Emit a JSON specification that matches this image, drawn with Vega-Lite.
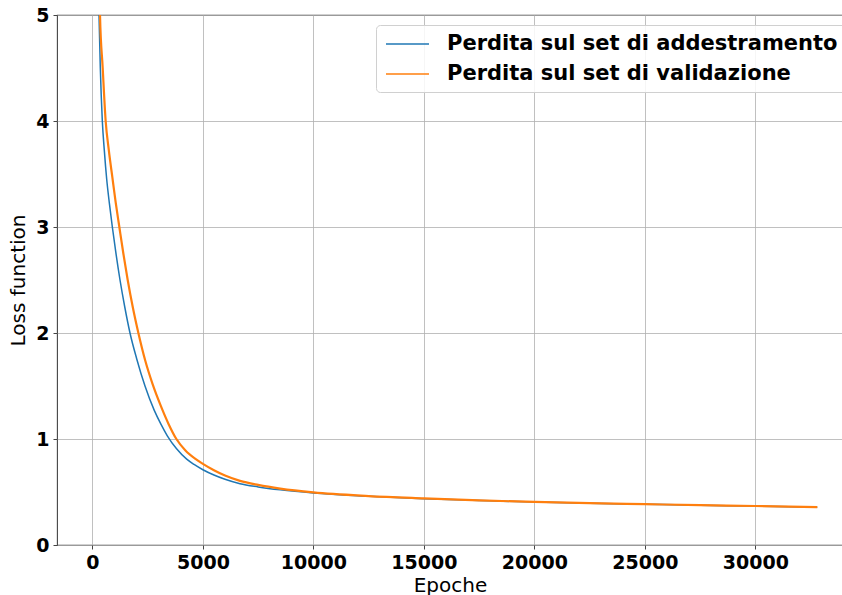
{
  "$schema": "https://vega.github.io/schema/vega-lite/v6.json",
  "autosize": "none",
  "padding": {"left": 57, "top": 15, "right": 0, "bottom": 50},
  "width": 786,
  "height": 530,
  "background": "white",
  "config": {
    "font": "DejaVu Sans",
    "view": {"stroke": "#444444", "strokeWidth": 1.1},
    "axis": {
      "domain": false,
      "grid": true,
      "gridColor": "#b0b0b0",
      "gridWidth": 0.8,
      "tickColor": "#444444",
      "tickSize": 4,
      "tickWidth": 1,
      "labelFont": "DejaVu Sans",
      "labelFontSize": 19,
      "labelFontWeight": "bold",
      "labelColor": "#000000",
      "titleFont": "DejaVu Sans",
      "titleFontSize": 20,
      "titleFontWeight": "normal",
      "titleColor": "#000000"
    }
  },
  "data": {
    "values": [
      {"epoch": 200, "loss": 6.2, "series": "Perdita sul set di addestramento"},
      {"epoch": 250, "loss": 5.55, "series": "Perdita sul set di addestramento"},
      {"epoch": 299, "loss": 5.0, "series": "Perdita sul set di addestramento"},
      {"epoch": 358, "loss": 4.5, "series": "Perdita sul set di addestramento"},
      {"epoch": 449, "loss": 4.0, "series": "Perdita sul set di addestramento"},
      {"epoch": 540, "loss": 3.72, "series": "Perdita sul set di addestramento"},
      {"epoch": 647, "loss": 3.45, "series": "Perdita sul set di addestramento"},
      {"epoch": 770, "loss": 3.22, "series": "Perdita sul set di addestramento"},
      {"epoch": 902, "loss": 3.0, "series": "Perdita sul set di addestramento"},
      {"epoch": 1060, "loss": 2.76, "series": "Perdita sul set di addestramento"},
      {"epoch": 1249, "loss": 2.5, "series": "Perdita sul set di addestramento"},
      {"epoch": 1460, "loss": 2.25, "series": "Perdita sul set di addestramento"},
      {"epoch": 1701, "loss": 2.0, "series": "Perdita sul set di addestramento"},
      {"epoch": 2000, "loss": 1.76, "series": "Perdita sul set di addestramento"},
      {"epoch": 2380, "loss": 1.5, "series": "Perdita sul set di addestramento"},
      {"epoch": 2800, "loss": 1.27, "series": "Perdita sul set di addestramento"},
      {"epoch": 3100, "loss": 1.14, "series": "Perdita sul set di addestramento"},
      {"epoch": 3390, "loss": 1.03, "series": "Perdita sul set di addestramento"},
      {"epoch": 3800, "loss": 0.91, "series": "Perdita sul set di addestramento"},
      {"epoch": 4267, "loss": 0.81, "series": "Perdita sul set di addestramento"},
      {"epoch": 4600, "loss": 0.76, "series": "Perdita sul set di addestramento"},
      {"epoch": 5000, "loss": 0.71, "series": "Perdita sul set di addestramento"},
      {"epoch": 5500, "loss": 0.66, "series": "Perdita sul set di addestramento"},
      {"epoch": 6000, "loss": 0.62, "series": "Perdita sul set di addestramento"},
      {"epoch": 6679, "loss": 0.578, "series": "Perdita sul set di addestramento"},
      {"epoch": 7500, "loss": 0.548, "series": "Perdita sul set di addestramento"},
      {"epoch": 8500, "loss": 0.52, "series": "Perdita sul set di addestramento"},
      {"epoch": 10000, "loss": 0.49, "series": "Perdita sul set di addestramento"},
      {"epoch": 12500, "loss": 0.46, "series": "Perdita sul set di addestramento"},
      {"epoch": 15000, "loss": 0.437, "series": "Perdita sul set di addestramento"},
      {"epoch": 17500, "loss": 0.42, "series": "Perdita sul set di addestramento"},
      {"epoch": 20000, "loss": 0.405, "series": "Perdita sul set di addestramento"},
      {"epoch": 22500, "loss": 0.394, "series": "Perdita sul set di addestramento"},
      {"epoch": 25000, "loss": 0.384, "series": "Perdita sul set di addestramento"},
      {"epoch": 27500, "loss": 0.375, "series": "Perdita sul set di addestramento"},
      {"epoch": 30000, "loss": 0.367, "series": "Perdita sul set di addestramento"},
      {"epoch": 32800, "loss": 0.356, "series": "Perdita sul set di addestramento"},
      {"epoch": 260, "loss": 6.0, "series": "Perdita sul set di validazione"},
      {"epoch": 300, "loss": 5.5, "series": "Perdita sul set di validazione"},
      {"epoch": 344, "loss": 5.0, "series": "Perdita sul set di validazione"},
      {"epoch": 466, "loss": 4.5, "series": "Perdita sul set di validazione"},
      {"epoch": 600, "loss": 4.0, "series": "Perdita sul set di validazione"},
      {"epoch": 745, "loss": 3.72, "series": "Perdita sul set di validazione"},
      {"epoch": 902, "loss": 3.47, "series": "Perdita sul set di validazione"},
      {"epoch": 1055, "loss": 3.23, "series": "Perdita sul set di validazione"},
      {"epoch": 1219, "loss": 3.0, "series": "Perdita sul set di validazione"},
      {"epoch": 1400, "loss": 2.75, "series": "Perdita sul set di validazione"},
      {"epoch": 1597, "loss": 2.5, "series": "Perdita sul set di validazione"},
      {"epoch": 1830, "loss": 2.24, "series": "Perdita sul set di validazione"},
      {"epoch": 2080, "loss": 2.0, "series": "Perdita sul set di validazione"},
      {"epoch": 2390, "loss": 1.74, "series": "Perdita sul set di validazione"},
      {"epoch": 2720, "loss": 1.52, "series": "Perdita sul set di validazione"},
      {"epoch": 3100, "loss": 1.31, "series": "Perdita sul set di validazione"},
      {"epoch": 3450, "loss": 1.14, "series": "Perdita sul set di validazione"},
      {"epoch": 3800, "loss": 1.0, "series": "Perdita sul set di validazione"},
      {"epoch": 4200, "loss": 0.895, "series": "Perdita sul set di validazione"},
      {"epoch": 4680, "loss": 0.81, "series": "Perdita sul set di validazione"},
      {"epoch": 5000, "loss": 0.765, "series": "Perdita sul set di validazione"},
      {"epoch": 5500, "loss": 0.705, "series": "Perdita sul set di validazione"},
      {"epoch": 6000, "loss": 0.655, "series": "Perdita sul set di validazione"},
      {"epoch": 6679, "loss": 0.605, "series": "Perdita sul set di validazione"},
      {"epoch": 7500, "loss": 0.567, "series": "Perdita sul set di validazione"},
      {"epoch": 8500, "loss": 0.532, "series": "Perdita sul set di validazione"},
      {"epoch": 10000, "loss": 0.496, "series": "Perdita sul set di validazione"},
      {"epoch": 12500, "loss": 0.462, "series": "Perdita sul set di validazione"},
      {"epoch": 15000, "loss": 0.44, "series": "Perdita sul set di validazione"},
      {"epoch": 17500, "loss": 0.421, "series": "Perdita sul set di validazione"},
      {"epoch": 20000, "loss": 0.406, "series": "Perdita sul set di validazione"},
      {"epoch": 22500, "loss": 0.395, "series": "Perdita sul set di validazione"},
      {"epoch": 25000, "loss": 0.385, "series": "Perdita sul set di validazione"},
      {"epoch": 27500, "loss": 0.376, "series": "Perdita sul set di validazione"},
      {"epoch": 30000, "loss": 0.368, "series": "Perdita sul set di validazione"},
      {"epoch": 32800, "loss": 0.357, "series": "Perdita sul set di validazione"}
    ]
  },
  "encoding": {
    "x": {
      "field": "epoch",
      "type": "quantitative",
      "scale": {"domain": [-1602, 33964], "nice": false, "zero": false},
      "axis": {"title": "Epoche", "values": [0, 5000, 10000, 15000, 20000, 25000, 30000], "format": "d", "labelPadding": 4, "titlePadding": 3}
    },
    "y": {
      "field": "loss",
      "type": "quantitative",
      "scale": {"domain": [0, 5], "nice": false},
      "axis": {"title": "Loss function", "values": [0, 1, 2, 3, 4, 5], "labelPadding": 4, "titlePadding": 7}
    },
    "color": {
      "field": "series",
      "type": "nominal",
      "scale": {
        "domain": ["Perdita sul set di addestramento", "Perdita sul set di validazione"],
        "range": ["#1f77b4", "#ff7f0e"]
      },
      "legend": {
        "title": null,
        "orient": "none",
        "legendX": 319,
        "legendY": 10,
        "symbolType": "M-0.9,0H3.4",
        "symbolSize": 400,
        "symbolStrokeWidth": 1.5,
        "labelFont": "DejaVu Sans",
        "labelFontSize": 21,
        "labelFontWeight": "bold",
        "labelColor": "#000000",
        "labelOffset": 41,
        "labelLimit": 600,
        "rowPadding": 9,
        "padding": 8,
        "fillColor": "rgba(255,255,255,0.85)",
        "strokeColor": "#d0d0d0",
        "cornerRadius": 4
      }
    }
  },
  "layer": [
    {
      "transform": [{"filter": "datum.series === 'Perdita sul set di addestramento'"}],
      "mark": {"type": "line", "clip": true, "strokeWidth": 1.5, "interpolate": "monotone"}
    },
    {
      "transform": [{"filter": "datum.series === 'Perdita sul set di validazione'"}],
      "mark": {"type": "line", "clip": true, "strokeWidth": 2.2, "interpolate": "monotone"}
    }
  ]
}
